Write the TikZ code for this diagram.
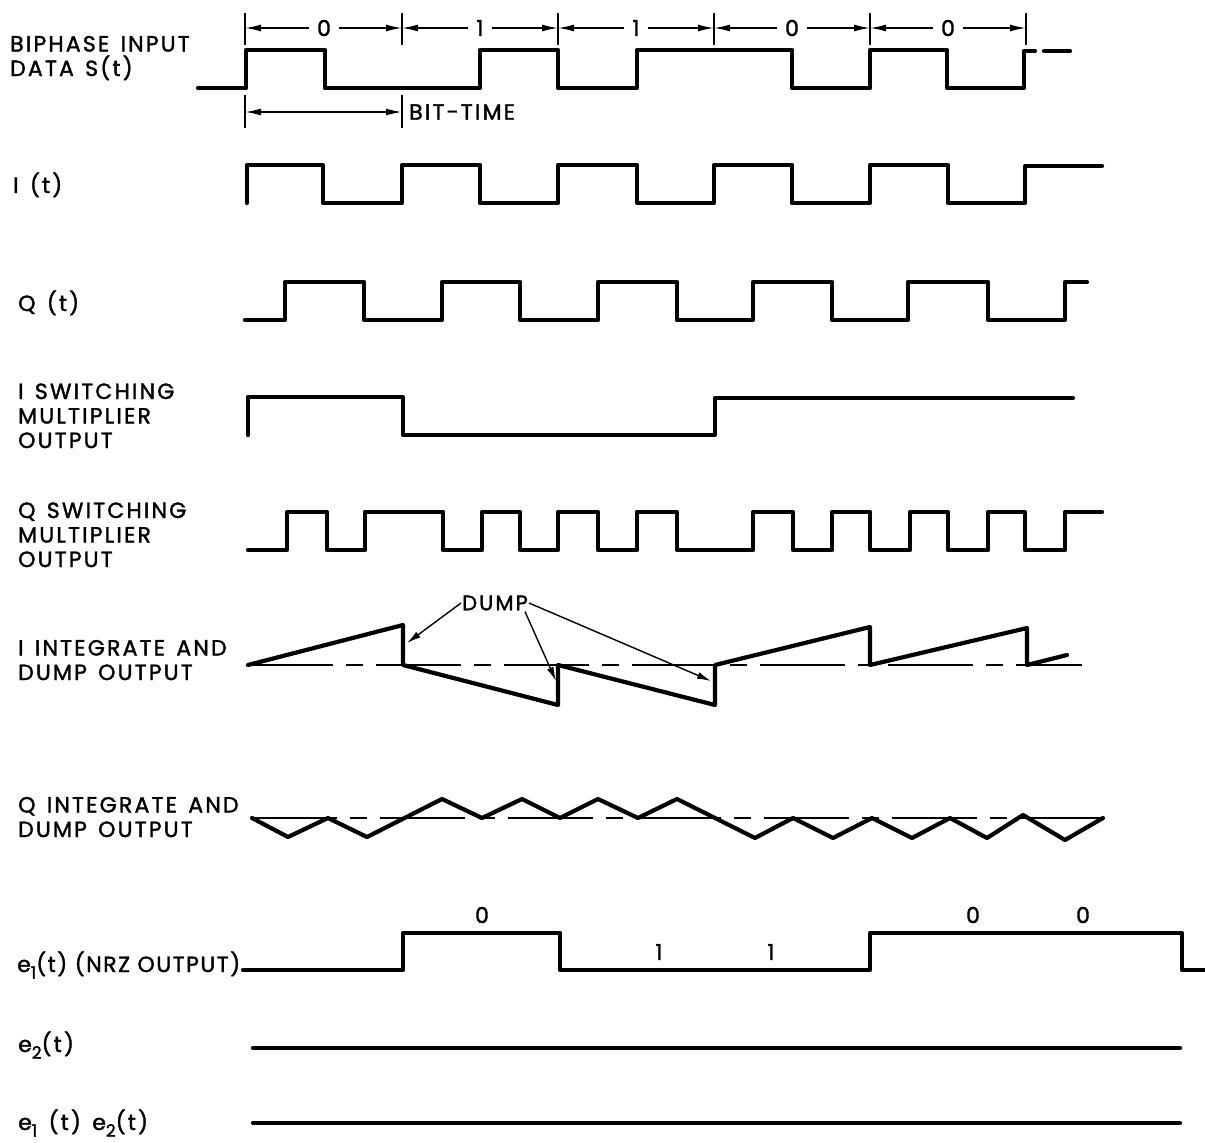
\documentclass[tikz,border=0pt]{standalone}
\usepackage{fontspec}
\setmainfont{Poppins}[FakeBold=1.6, LetterSpace=10, WordSpace=1.4]
\newfontfamily\nrzfont{Poppins}[FakeBold=1.6, LetterSpace=7, WordSpace=1.0]
\usetikzlibrary{arrows.meta}
\newcommand\sbs[1]{\raisebox{-0.55ex}{\fontsize{17}{17}\selectfont #1}}
\tikzset{
  sig/.style={line width=4.2pt, line join=round, line cap=round},
  base/.style={line width=1.8pt, dash pattern=on 85pt off 13pt on 17pt off 13pt},
  tick/.style={line width=1.6pt},
  dim/.style={line width=1.6pt, -{Latex[length=16pt,width=7pt]}},
  dimtwo/.style={line width=1.6pt, {Latex[length=16pt,width=7pt]}-{Latex[length=16pt,width=7pt]}},
  lbl/.style={anchor=base west, align=left, inner sep=0pt, font=\fontsize{22}{24.5}\selectfont},
  dig/.style={inner sep=0pt, font=\fontsize{22}{22}\selectfont},
  dumparrow/.style={line width=1.4pt, -{Latex[length=14pt,width=7pt]}}
}
\begin{document}
\begin{tikzpicture}[x=1pt,y=-1pt]
\useasboundingbox[fill=white] (0,0) rectangle (1205,1143);

% ---------- labels ----------
\node[lbl] (l1) at (10,76) {BIPHASE INPUT\\DATA S(t)};
\node[lbl] (l2) at (13,193) {I (t)};
\node[lbl] (l3) at (18,311) {Q (t)};
\node[lbl] (l4) at (18,448) {I SWITCHING\\MULTIPLIER\\OUTPUT};
\node[lbl] (l5) at (18,567) {Q SWITCHING\\MULTIPLIER\\OUTPUT};
\node[lbl] (l6) at (18,680) {I INTEGRATE AND\\DUMP OUTPUT};
\node[lbl] (l7) at (18,837) {Q INTEGRATE AND\\DUMP OUTPUT};
\node[lbl, font=\nrzfont\fontsize{22}{24.5}\selectfont] (l8) at (17,972) {e\sbs{1}(t) (NRZ OUTPUT)};
\node[lbl] (l9) at (18,1052) {e\sbs{2}(t)};
\node[lbl] (l10) at (18,1130) {e\sbs{1} (t) e\sbs{2}(t)};

% ---------- bit time dimension marks ----------
\foreach \x [count=\i] in {245,402,558,714,870,1026}{
  \draw[tick] (\x,13) -- (\x,45);
  \coordinate (t\i) at (\x,28);
}
\node[dig] (b1) at (324,28) {0};
\node[dig] (b2) at (480,28) {1};
\node[dig] (b3) at (636,28) {1};
\node[dig] (b4) at (792,28) {0};
\node[dig] (b5) at (948,28) {0};
\foreach \i/\j [count=\k] in {1/2,2/3,3/4,4/5,5/6}{
  \draw[dim] ([xshift=-8pt]b\k.west) -- (t\i);
  \draw[dim] ([xshift=8pt]b\k.east) -- (t\j);
}
% BIT-TIME
\draw[tick] (245,95) -- (245,128);
\draw[tick] (402,95) -- (402,128);
\coordinate (bt1) at (245,112);
\coordinate (bt2) at (402,112);
\draw[dimtwo] (bt1) -- (bt2);
\node[anchor=west, inner sep=0pt, font=\fontsize{22}{22}\selectfont] (bittime) at (409,112) {BIT-TIME};

% ---------- S(t) ----------
\draw[sig] (198,88) -- (246,88) -- (246,50) -- (325,50) -- (325,88) -- (480,88) -- (480,50)
  -- (558,50) -- (558,88) -- (637,88) -- (637,50) -- (792,50) -- (792,88) -- (870,88)
  -- (870,50) -- (947,50) -- (947,88) -- (1024,88) -- (1024,51) -- (1035,51);
\draw[sig] (1044,51) -- (1070,51);

% ---------- I(t) ----------
\draw[sig] (247,203) -- (247,165) -- (323,165) -- (323,203) -- (402,203) -- (402,165)
  -- (480,165) -- (480,203) -- (558,203) -- (558,165) -- (637,165) -- (637,203)
  -- (714,203) -- (714,165) -- (792,165) -- (792,203) -- (870,203) -- (870,165)
  -- (948,165) -- (948,203) -- (1025,203) -- (1025,166) -- (1102,166);

% ---------- Q(t) ----------
\draw[sig] (245,320) -- (285,320) -- (285,282) -- (364,282) -- (364,320) -- (442,320)
  -- (442,282) -- (520,282) -- (520,320) -- (598,320) -- (598,282) -- (677,282)
  -- (677,320) -- (753,320) -- (753,282) -- (832,282) -- (832,320) -- (908,320)
  -- (908,282) -- (988,282) -- (988,320) -- (1065,320) -- (1065,282) -- (1087,282);

% ---------- I switching multiplier ----------
\draw[sig] (248,435) -- (248,397) -- (403,397) -- (403,435) -- (715,435) -- (715,398) -- (1073,398);

% ---------- Q switching multiplier ----------
\draw[sig] (248,550) -- (287,550) -- (287,512) -- (327,512) -- (327,550) -- (365,550)
  -- (365,512) -- (443,512) -- (443,550) -- (482,550) -- (482,512) -- (520,512)
  -- (520,550) -- (558,550) -- (558,512) -- (598,512) -- (598,550) -- (637,550)
  -- (637,512) -- (677,512) -- (677,550) -- (753,550) -- (753,512) -- (793,512)
  -- (793,550) -- (832,550) -- (832,512) -- (870,512) -- (870,550) -- (910,550)
  -- (910,512) -- (948,512) -- (948,550) -- (988,550) -- (988,512) -- (1025,512)
  -- (1025,550) -- (1065,550) -- (1065,512) -- (1102,512);

% ---------- I integrate and dump ----------
\draw[base] (248,665) -- (1082,665);
\draw[sig] (248,665) -- (403,625) -- (403,665) -- (558,705) -- (558,665) -- (715,705)
  -- (715,665) -- (870,627) -- (870,665) -- (1027,628) -- (1027,665) -- (1067,655);
\node[inner sep=1pt, font=\fontsize{21}{21}\selectfont] (dump) at (495,603) {DUMP};
\coordinate (d1) at (407,643);
\coordinate (d2) at (556,681);
\coordinate (d3) at (711,681);
\draw[dumparrow] (dump.west) -- (d1);
\draw[dumparrow] ([xshift=-4pt]dump.south east) -- (d2);
\draw[dumparrow] (dump.east) -- (d3);

% ---------- Q integrate and dump ----------
\draw[base] (252,818) -- (1103,818);
\draw[sig] (252,818) -- (288,837) -- (328,818) -- (367,837) -- (442,799) -- (482,818)
  -- (522,799) -- (560,818) -- (598,799) -- (638,818) -- (677,799) -- (755,838)
  -- (793,818) -- (833,838) -- (872,818) -- (912,838) -- (950,818) -- (987,838)
  -- (1023,815) -- (1065,840) -- (1103,818);

% ---------- e1(t) ----------
\draw[sig] (243,970) -- (403,970) -- (403,933) -- (560,933) -- (560,970) -- (870,970)
  -- (870,933) -- (1182,933) -- (1182,970) -- (1205,970);
\node[dig] (n1) at (482,915) {0};
\node[dig] (n2) at (659,952) {1};
\node[dig] (n3) at (771,952) {1};
\node[dig] (n4) at (973,915) {0};
\node[dig] (n5) at (1083,915) {0};

% ---------- e2(t), e1 e2 ----------
\draw[sig] (253,1048) -- (1180,1048);
\draw[sig] (253,1123) -- (1180,1123);
\end{tikzpicture}
\end{document}
